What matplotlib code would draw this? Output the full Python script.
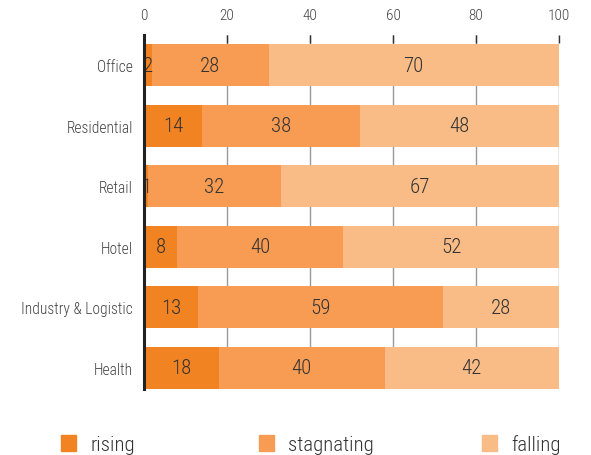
import numpy as np
import matplotlib.pyplot as plt
from matplotlib.patches import Rectangle

plt.rcParams['font.family'] = ['Roboto Condensed', 'DejaVu Sans']
plt.rcParams['font.weight'] = 'light'

categories = ['Office', 'Residential', 'Retail', 'Hotel', 'Industry & Logistic', 'Health']
rising = [2, 14, 1, 8, 13, 18]
stagnating = [28, 38, 32, 40, 59, 40]
falling = [70, 48, 67, 52, 28, 42]
series_names = ['rising', 'stagnating', 'falling']
colors = ['#F28322', '#F89C54', '#F9BC87']

W, H = 591, 456
fig = plt.figure(figsize=(W / 100, H / 100), dpi=100)
ax = fig.add_axes([144 / W, 1 - 390 / H, 415 / W, 354 / H])
ax.set_axisbelow(True)

row = 60.6
y = np.arange(len(categories))
left = np.zeros(len(categories))
for vals, c in zip([rising, stagnating, falling], colors):
    vals = np.array(vals)
    ax.barh(y, vals, left=left, height=42 / row, color=c, zorder=2)
    for yi, l, v in zip(y, left, vals):
        ax.text(l + v / 2, yi, str(v), ha='center', va='center',
                fontsize=15, color='#333333', zorder=3)
    left += vals

ax.set_xlim(0, 100)
ax.set_ylim(5 + 21 / row, -30 / row)
ax.set_yticks(y)
ax.set_yticklabels(categories, fontsize=11.2, color='#444444')
ax.set_xticks(np.arange(0, 101, 20))
ax.xaxis.tick_top()
ax.tick_params(axis='x', labelsize=11, labelcolor='#444444', color='#333333',
               direction='in', length=6, width=1, pad=9)
ax.tick_params(axis='y', length=0, pad=8)
ax.grid(axis='x', color='#999999', linewidth=1, zorder=0)
for s in ['top', 'right', 'bottom']:
    ax.spines[s].set_visible(False)
ax.spines['left'].set_color('#222222')
ax.spines['left'].set_linewidth(2.2)
ax.spines['left'].set_zorder(4)

# legend row along the bottom
legend_x = [61, 259, 482]
for x0, name, c in zip(legend_x, series_names, colors):
    fig.add_artist(Rectangle((x0 / W, 1 - 452 / H), 15 / W, 16 / H,
                             transform=fig.transFigure, color=c))
    fig.text((x0 + 29) / W, 1 - 451 / H, name, fontsize=15,
             color='#333333', va='baseline')

fig.savefig('out.png', dpi=100)
